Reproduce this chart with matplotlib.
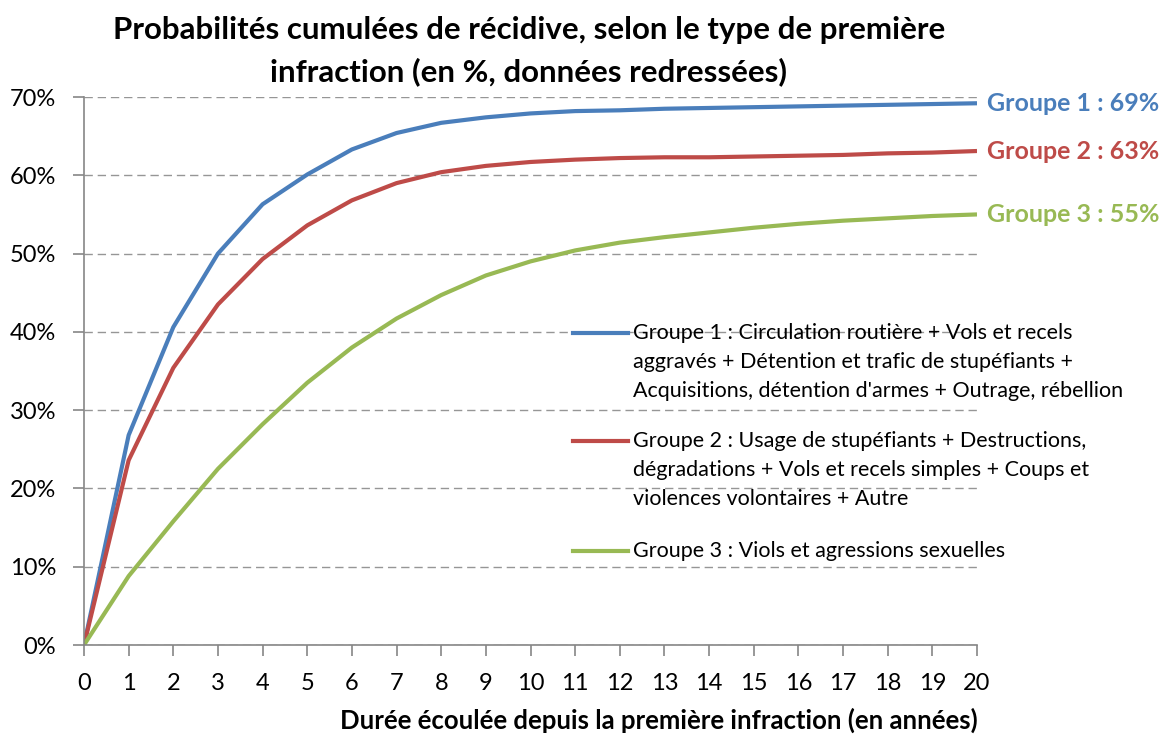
import matplotlib.pyplot as plt
import numpy as np
from matplotlib.lines import Line2D

plt.rcParams["font.family"] = ["Lato", "DejaVu Sans"]

# données
annees = list(range(0, 21))
groupe1 = [0, 26.8, 40.6, 50.0, 56.3, 60.1, 63.3, 65.4, 66.7, 67.4, 67.9,
           68.2, 68.3, 68.5, 68.6, 68.7, 68.8, 68.9, 69.0, 69.1, 69.2]
groupe2 = [0, 23.6, 35.4, 43.5, 49.3, 53.6, 56.8, 59.0, 60.4, 61.2, 61.7,
           62.0, 62.2, 62.3, 62.3, 62.4, 62.5, 62.6, 62.8, 62.9, 63.1]
groupe3 = [0, 8.8, 15.8, 22.5, 28.2, 33.5, 38.0, 41.7, 44.7, 47.2, 49.0,
           50.4, 51.4, 52.1, 52.7, 53.3, 53.8, 54.2, 54.5, 54.8, 55.0]

libelles = [
    ["Groupe 1 : Circulation routière + Vols et recels",
     "aggravés + Détention et trafic de stupéfiants +",
     "Acquisitions, détention d'armes + Outrage, rébellion"],
    ["Groupe 2 : Usage de stupéfiants + Destructions,",
     "dégradations + Vols et recels simples + Coups et",
     "violences volontaires + Autre"],
    ["Groupe 3 : Viols et agressions sexuelles"],
]
etiquettes_fin = ["Groupe 1 : 69%", "Groupe 2 : 63%", "Groupe 3 : 55%"]
couleurs = ["#4A7EBB", "#BE4B48", "#98B954"]

W, H = 1166, 737
fig = plt.figure(figsize=(W / 100, H / 100), dpi=100)
ax = fig.add_axes([84 / W, 1 - 645 / H, (977 - 84) / W, (645 - 97) / H])

series = [groupe1, groupe2, groupe3]
for y, c in zip(series, couleurs):
    ax.plot(annees, y, color=c, linewidth=3.0, solid_capstyle="butt")

# étiquettes en bout de courbe
for y, c, txt in zip(series, couleurs, etiquettes_fin):
    ax.annotate(txt, xy=(annees[-1], y[-1]), xytext=(7, 0), textcoords="offset points",
                color=c, fontsize=18, fontweight="bold", va="center", ha="left",
                annotation_clip=False)

ax.set_xlim(0, 20)
ax.set_ylim(0, 70)
ax.set_xticks(annees)
ax.set_yticks(np.arange(0, 71, 10))
ax.set_yticklabels([f"{v}%" for v in range(0, 71, 10)])
ax.tick_params(axis="both", labelsize=17, direction="out", length=8, color="#868686", width=1.2)
ax.tick_params(axis="y", pad=12)
ax.tick_params(axis="x", pad=12)

ax.grid(axis="y", linestyle=(0, (6, 3.5)), color="#969696", linewidth=1)
ax.set_axisbelow(True)
for s in ["top", "right"]:
    ax.spines[s].set_visible(False)
for s in ["left", "bottom"]:
    ax.spines[s].set_color("#868686")
    ax.spines[s].set_linewidth(1.2)

# légende dessinée à la main (trait au niveau de la première ligne)
y_entrees = [333, 441, 551]
for lignes_txt, c, y0 in zip(libelles, couleurs, y_entrees):
    fig.add_artist(Line2D([573 / W, 628 / W], [1 - y0 / H, 1 - y0 / H],
                          color=c, linewidth=3.0, transform=fig.transFigure))
    for i, t in enumerate(lignes_txt):
        fig.text(633 / W, 1 - (y0 + 29 * i) / H, t, ha="left", va="center", fontsize=15.5)

fig.text(529 / W, 1 - 30 / H, "Probabilités cumulées de récidive, selon le type de première",
         ha="center", va="center", fontsize=22.5, fontweight="bold")
fig.text(529 / W, 1 - 72 / H, "infraction (en %, données redressées)",
         ha="center", va="center", fontsize=22.5, fontweight="bold")
fig.text(659 / W, 1 - 720 / H, "Durée écoulée depuis la première infraction (en années)",
         ha="center", va="center", fontsize=18.5, fontweight="bold")

fig.savefig("out.png", dpi=100)
